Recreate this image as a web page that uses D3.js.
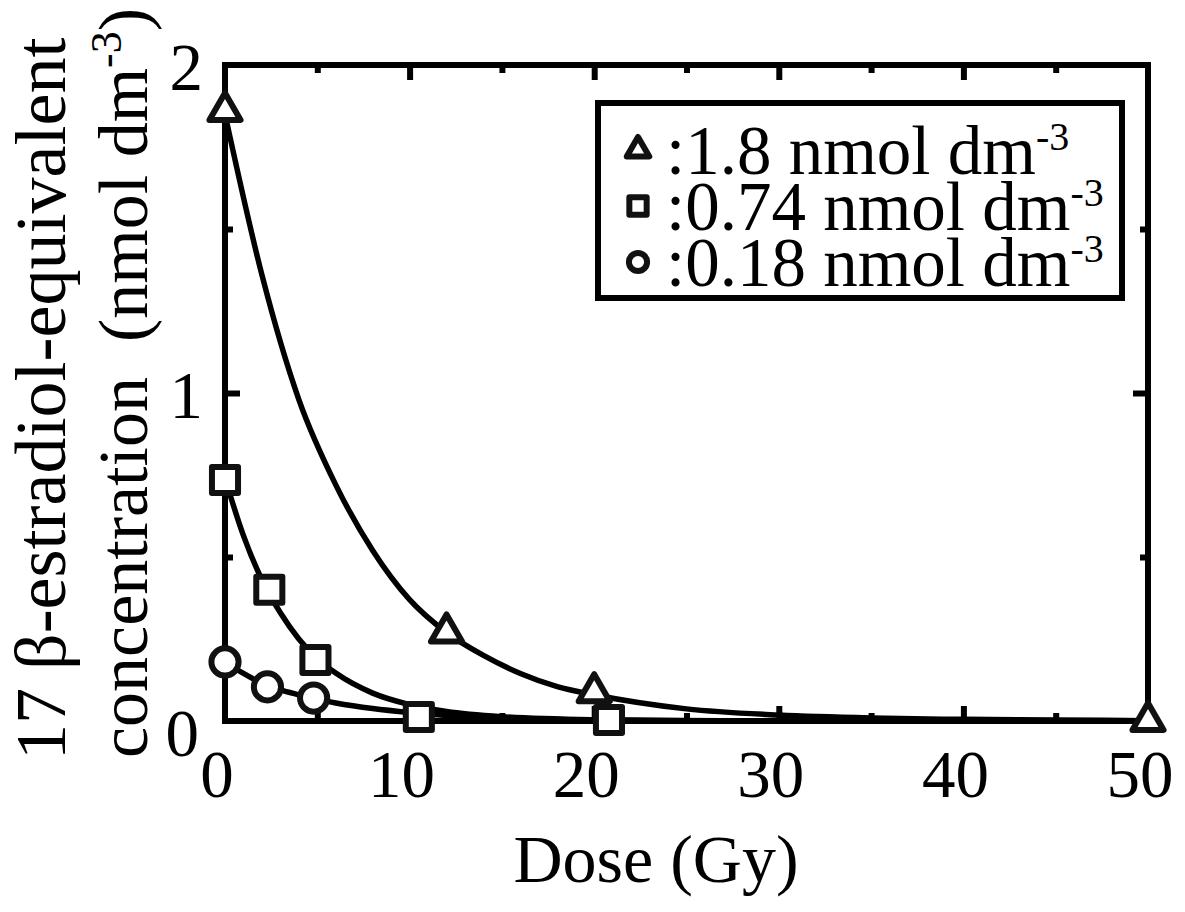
<!DOCTYPE html>
<html>
<head>
<meta charset="utf-8">
<script src="https://cdn.jsdelivr.net/npm/d3@7"></script>
<style>
  body { margin: 0; background: #fff; }
</style>
</head>
<body>
<div id="chart"></div>
<script>
// measured points (dose in Gy, concentration in nmol dm-3)
const triDose = [0, 12, 20, 50];
const triConc = [1.86, 0.27, 0.088, 0];
const sqDose = [0, 2.4, 4.9, 10.5, 20.8];
const sqConc = [0.735, 0.40, 0.186, 0.012, 0.003];
const ciDose = [0, 2.3, 4.8];
const ciConc = [0.18, 0.104, 0.07];

// fitted curves
const triCurveDose = [0, 2, 4, 6, 8, 10, 12, 14, 16, 18, 20, 25, 30, 35, 40, 45, 50];
const triCurveConc = [1.85, 1.36, 0.98, 0.72, 0.52, 0.37, 0.27, 0.20, 0.145, 0.105, 0.08, 0.037, 0.018, 0.009, 0.005, 0.003, 0.001];
const sqCurveDose = [0, 1, 2, 3, 4, 5, 6, 8, 10, 12, 15, 20, 25, 30];
const sqCurveConc = [0.74, 0.565, 0.43, 0.33, 0.25, 0.19, 0.146, 0.085, 0.05, 0.029, 0.013, 0.0035, 0.001, 0];
const ciCurveDose = [0, 1, 2, 3, 4, 5, 6, 8, 10, 12, 15, 20, 30];
const ciCurveConc = [0.18, 0.145, 0.115, 0.095, 0.08, 0.066, 0.055, 0.038, 0.026, 0.017, 0.009, 0.003, 0];

const xMajor = [0, 10, 20, 30, 40, 50];
const xMinor = [5, 15, 25, 35, 45];
const yMajor = [0, 1, 2];
const yMinor = [0.5, 1.5];

const legendLabels = [':1.8 nmol dm', ':0.74 nmol dm', ':0.18 nmol dm'];

const W = 1185, H = 912;
const mLeft = 225, mRight = 1148, mTop = 65, mBottom = 721;
const serif = 'Liberation Serif, Times New Roman, DejaVu Serif, serif';

const svg = d3.select('#chart').append('svg')
    .attr('width', W)
    .attr('height', H)
    .attr('font-family', serif);

const x = d3.scaleLinear().domain([0, 50]).range([mLeft, mRight]);
const y = d3.scaleLinear().domain([0, 2]).range([mBottom, mTop]);

// ticks on all four sides, pointing inward
const tickW = 6;
function ticks(axis, vals, len) {
  let a1, a2;
  if (axis === 'x') {
    a1 = svg.append('g').attr('transform', `translate(0,${mBottom})`)
      .call(d3.axisBottom(x).tickValues(vals).tickSize(-len).tickFormat(''));
    a2 = svg.append('g').attr('transform', `translate(0,${mTop})`)
      .call(d3.axisTop(x).tickValues(vals).tickSize(-len).tickFormat(''));
  } else {
    a1 = svg.append('g').attr('transform', `translate(${mLeft},0)`)
      .call(d3.axisLeft(y).tickValues(vals).tickSize(-len).tickFormat(''));
    a2 = svg.append('g').attr('transform', `translate(${mRight},0)`)
      .call(d3.axisRight(y).tickValues(vals).tickSize(-len).tickFormat(''));
  }
  [a1, a2].forEach(a => {
    a.select('.domain').remove();
    a.selectAll('line').attr('stroke', '#000').attr('stroke-width', tickW);
  });
}
ticks('x', xMajor.slice(1, -1), 15);
ticks('x', xMinor, 8);
ticks('y', yMajor.slice(1, -1), 15);
ticks('y', yMinor, 8);

// frame
svg.append('rect')
    .attr('x', mLeft).attr('y', mTop)
    .attr('width', mRight - mLeft).attr('height', mBottom - mTop)
    .attr('fill', 'none')
    .attr('stroke', '#000')
    .attr('stroke-width', 6);

// tick labels
svg.selectAll('.xlab')
  .data(xMajor)
  .join('text')
    .attr('class', 'xlab')
    .attr('x', d => x(d) - 8)
    .attr('y', 797)
    .attr('text-anchor', 'middle')
    .attr('font-family', serif)
    .style('font-size', '67px')
    .text(d => d);

svg.selectAll('.ylab')
  .data(yMajor)
  .join('text')
    .attr('class', 'ylab')
    .attr('x', d => d === 0 ? 199 : 203)
    .attr('y', d => y(d) + (d === 0 ? 35 : 25))
    .attr('text-anchor', 'end')
    .attr('font-family', serif)
    .style('font-size', '67px')
    .text(d => d);

// axis titles
svg.append('text')
    .attr('x', 656)
    .attr('y', 882)
    .attr('text-anchor', 'middle')
    .attr('font-family', serif)
    .style('font-size', '68px')
    .text('Dose (Gy)');

svg.append('text')
    .attr('transform', 'translate(65,760) rotate(-90)')
    .attr('font-family', serif)
    .style('font-size', '72px')
    .text('17 \u03b2-estradiol-equivalent');

const yt2 = svg.append('text')
    .attr('transform', 'translate(147,758) rotate(-90)')
    .attr('font-family', serif)
    .style('font-size', '70px')
    .style('white-space', 'pre');
yt2.append('tspan').text('concentration  (nmol dm');
yt2.append('tspan').attr('dy', -26).style('font-size', '44px').text('-3');
yt2.append('tspan').attr('dy', 26).text(')');

// curves
const line = d3.line()
    .x(d => x(d[0]))
    .y(d => y(d[1]))
    .curve(d3.curveMonotoneX);

[[triCurveDose, triCurveConc], [sqCurveDose, sqCurveConc], [ciCurveDose, ciCurveConc]].forEach(([ds, cs]) => {
  svg.append('path')
      .attr('d', line(ds.map((d, i) => [d, cs[i]])))
      .attr('fill', 'none')
      .attr('stroke', '#000')
      .attr('stroke-width', 5.5);
});

// markers
const tri = d3.symbol(d3.symbolTriangle, 420);
const sq = d3.symbol(d3.symbolSquare, 680);
const ci = d3.symbol(d3.symbolCircle, 580);

function markers(ds, cs, sym) {
  svg.append('g').selectAll('path')
    .data(ds.map((d, i) => [d, cs[i]]))
    .join('path')
      .attr('transform', d => `translate(${x(d[0])},${y(d[1])})`)
      .attr('d', sym)
      .attr('fill', '#fff')
      .attr('stroke', '#111')
      .attr('stroke-width', 6)
      .attr('stroke-linejoin', 'round');
}
markers(ciDose, ciConc, ci);
markers(sqDose, sqConc, sq);
markers(triDose, triConc, tri);

// legend
svg.append('rect')
    .attr('x', 598).attr('y', 103)
    .attr('width', 524).attr('height', 195)
    .attr('fill', '#fff')
    .attr('stroke', '#000')
    .attr('stroke-width', 6);

const legSyms = [d3.symbol(d3.symbolTriangle, 220), d3.symbol(d3.symbolSquare, 300), d3.symbol(d3.symbolCircle, 260)];
legendLabels.forEach((lab, i) => {
  const cy = 150 + i * 56;
  svg.append('path')
      .attr('transform', `translate(638,${cy})`)
      .attr('d', legSyms[i])
      .attr('fill', '#fff')
      .attr('stroke', '#111')
      .attr('stroke-width', 6)
      .attr('stroke-linejoin', 'round');
  const t = svg.append('text')
      .attr('x', 666)
      .attr('y', cy + 24)
      .attr('font-family', serif)
      .style('font-size', '69px');
  t.append('tspan').text(lab);
  t.append('tspan').attr('dy', -24).style('font-size', '40px').text('-3');
});
</script>
</body>
</html>
